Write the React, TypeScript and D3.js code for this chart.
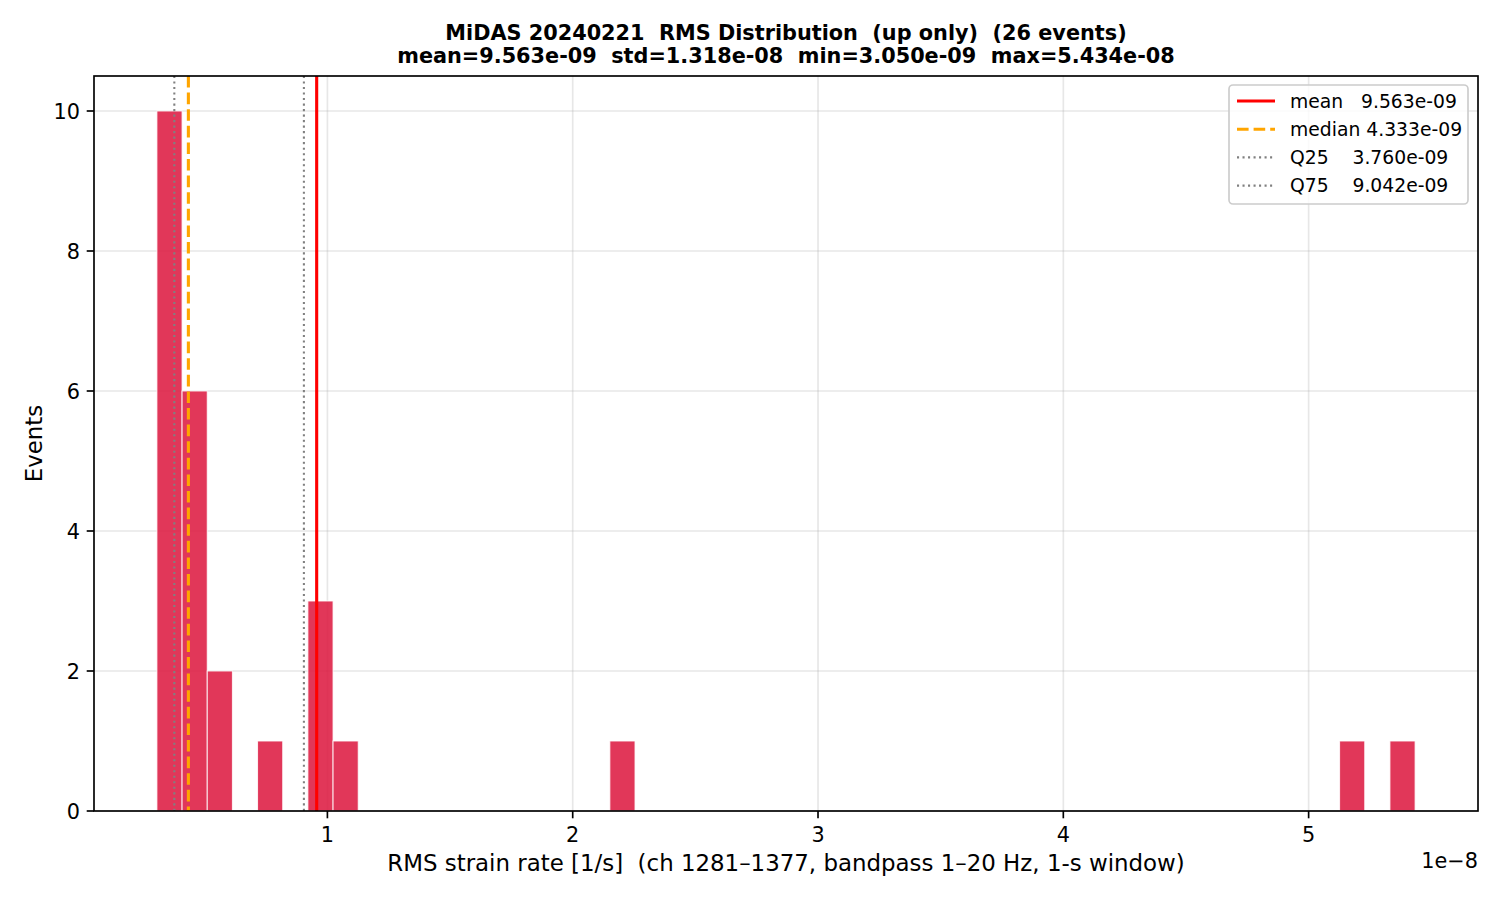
import React from "react";
import * as d3 from "d3";

// ---- data ----
const titleLine1 = "MiDAS 20240221  RMS Distribution  (up only)  (26 events)";
const titleLine2 = "mean=9.563e-09  std=1.318e-08  min=3.050e-09  max=5.434e-08";
const xLabel = "RMS strain rate [1/s]  (ch 1281\u20131377, bandpass 1\u201320 Hz, 1-s window)";
const yLabel = "Events";

const dataMin = 3.050e-9;
const dataMax = 5.434e-8;
const nBins = 50;
// counts per bin (50 equal-width bins between min and max)
const binCounts = [
  10, 6, 2, 0, 1, 0, 3, 1, 0, 0,
  0, 0, 0, 0, 0, 0, 0, 0, 1, 0,
  0, 0, 0, 0, 0, 0, 0, 0, 0, 0,
  0, 0, 0, 0, 0, 0, 0, 0, 0, 0,
  0, 0, 0, 0, 0, 0, 0, 1, 0, 1,
];

const statNames = ["mean", "median", "Q25", "Q75"];
const statValues = [9.563e-9, 4.333e-9, 3.760e-9, 9.042e-9];
const statLabels = ["mean   9.563e-09", "median 4.333e-09", "Q25    3.760e-09", "Q75    9.042e-09"];

const xTicks = [1e-8, 2e-8, 3e-8, 4e-8, 5e-8];
const xTickLabels = ["1", "2", "3", "4", "5"];
const yTicks = [0, 2, 4, 6, 8, 10];
const offsetText = "1e\u22128";

// ---- layout ----
const W = 1500, H = 900;
const L = 94, R = 1478, T = 76, B = 811;
const FONT = "'DejaVu Sans', sans-serif";

const styles: Record<string, { color: string; width: number; dash?: string }> = {
  mean: { color: "#ff0000", width: 3.1 },
  median: { color: "#ffa500", width: 3.1, dash: "11.6,5" },
  Q25: { color: "#808080", width: 2.08, dash: "2.08,3.43" },
  Q75: { color: "#808080", width: 2.08, dash: "2.08,3.43" },
};

export default function App() {
  const span = dataMax - dataMin;
  const x = d3.scaleLinear().domain([dataMin - 0.05 * span, dataMax + 0.05 * span]).range([L, R]);
  const y = d3.scaleLinear().domain([0, 10.5]).range([B, T]);
  const binW = span / nBins;
  const bins = binCounts.map((c, i) => ({ x0: dataMin + i * binW, x1: dataMin + (i + 1) * binW, c }));

  return (
    <div style={{ position: "absolute", left: 0, top: 0 }}>
      <svg width={W} height={H} style={{ display: "block", background: "#fff" }} fontFamily={FONT}>
        <rect x={0} y={0} width={W} height={H} fill="#fff" />
        {/* grid */}
        {xTicks.map((t, i) => (
          <line key={"gx" + i} x1={x(t)} x2={x(t)} y1={T} y2={B} stroke="#b0b0b0" strokeOpacity={0.3} strokeWidth={1.67} />
        ))}
        {yTicks.map((t, i) => (
          <line key={"gy" + i} x1={L} x2={R} y1={y(t)} y2={y(t)} stroke="#b0b0b0" strokeOpacity={0.3} strokeWidth={1.67} />
        ))}
        {/* bars */}
        {bins.filter((b) => b.c > 0).map((b, i) => (
          <rect
            key={"b" + i}
            x={x(b.x0)}
            y={y(b.c)}
            width={x(b.x1) - x(b.x0)}
            height={y(0) - y(b.c)}
            fill="#dc143c"
            fillOpacity={0.85}
            stroke="#ffffff"
            strokeOpacity={0.85}
            strokeWidth={1}
          />
        ))}
        {/* stat lines */}
        {statNames.map((n, i) => {
          const s = styles[n];
          return (
            <line key={"s" + i} x1={x(statValues[i])} x2={x(statValues[i])} y1={T} y2={B}
              stroke={s.color} strokeWidth={s.width} strokeDasharray={s.dash} />
          );
        })}
        {/* spines */}
        <rect x={L} y={T} width={R - L} height={B - T} fill="none" stroke="#000" strokeWidth={1.67} />
        {/* x ticks */}
        {xTicks.map((t, i) => (
          <g key={"xt" + i}>
            <line x1={x(t)} x2={x(t)} y1={B} y2={B + 7.3} stroke="#000" strokeWidth={1.67} />
            <text x={x(t)} y={842} fontSize={20.8} textAnchor="middle" fill="#000">{xTickLabels[i]}</text>
          </g>
        ))}
        {/* y ticks */}
        {yTicks.map((t, i) => (
          <g key={"yt" + i}>
            <line x1={L - 7.3} x2={L} y1={y(t)} y2={y(t)} stroke="#000" strokeWidth={1.67} />
            <text x={80} y={y(t) + 7.6} fontSize={20.8} textAnchor="end" fill="#000">{t}</text>
          </g>
        ))}
        <text x={R} y={868} fontSize={20.8} textAnchor="end" fill="#000">{offsetText}</text>
        {/* axis labels */}
        <text x={(L + R) / 2} y={871} fontSize={22.9} textAnchor="middle" fill="#000" style={{ whiteSpace: "pre" }}>{xLabel}</text>
        <text transform={`translate(42,${(T + B) / 2}) rotate(-90)`} fontSize={22.9} textAnchor="middle" fill="#000">{yLabel}</text>
        {/* title */}
        <text x={(L + R) / 2} y={40} fontSize={20.8} fontWeight="bold" textAnchor="middle" fill="#000" style={{ whiteSpace: "pre" }}>{titleLine1}</text>
        <text x={(L + R) / 2} y={63} fontSize={20.8} fontWeight="bold" textAnchor="middle" fill="#000" style={{ whiteSpace: "pre" }}>{titleLine2}</text>
        {/* legend */}
        <g>
          <rect x={1229} y={85} width={239} height={119} rx={4} fill="#fff" fillOpacity={0.8} stroke="#cccccc" strokeWidth={1.67} />
          {statNames.map((n, i) => {
            const s = styles[n];
            const cy = 101 + i * 28.2;
            return (
              <g key={"lg" + i}>
                <line x1={1237} x2={1275} y1={cy} y2={cy} stroke={s.color} strokeWidth={s.width} strokeDasharray={s.dash} />
                <text x={1290} y={cy + 6.8} fontSize={18.75} fill="#000" style={{ whiteSpace: "pre" }}>{statLabels[i]}</text>
              </g>
            );
          })}
        </g>
      </svg>
    </div>
  );
}
